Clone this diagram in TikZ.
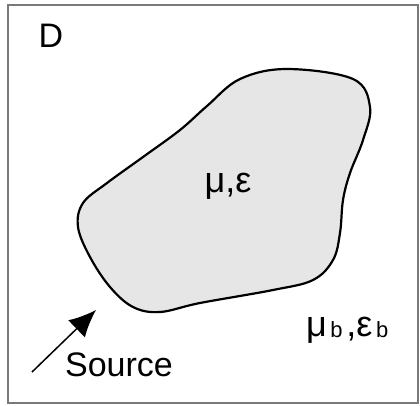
\documentclass[tikz,border=0pt]{standalone}
\usepackage{fontspec}
\setmainfont{Liberation Sans}
\usetikzlibrary{arrows.meta}
\definecolor{FrameGray}{HTML}{7A7A7A}
\definecolor{BodyGray}{HTML}{E6E6E6}
\tikzset{
  regionframe/.style={draw=FrameGray, line width=1.5pt},
  scatterer/.style={draw=black, line width=2.2pt, fill=BodyGray},
  txt/.style={inner sep=0pt, font=\fontsize{34}{38}\selectfont},
  greek/.style={inner sep=0pt, font=\fontsize{36}{40}\selectfont},
  excite/.style={-{Latex[length=27pt, width=24pt]}, line width=1.5pt}
}
\newcommand{\sbsc}[1]{\raisebox{-1pt}{\fontsize{22}{24}\selectfont\,#1\,}}

\begin{document}
\begin{tikzpicture}[x=1pt, y=-1pt]
  \useasboundingbox (0,0) rectangle (420,405);
  \draw[regionframe] (8,5) rectangle (418,403);

  % scatterer
  \draw[scatterer] plot[smooth cycle, tension=0.6] coordinates {
    (240,79) (287,69) (353,79) (370,107) (363,140) (350,173)
    (343,200) (340,233) (333,260) (313,280) (273,290) (200,303)
    (160,312) (133,307) (110,287) (90,257) (78,227) (83,203)
    (107,183) (143,157) (180,130) (207,106)};

  \node[txt] (dom) at (51,36) {D};
  \node[greek] (inside) at (228,186) {μ,ε};
  \node[greek] (outside) at (349,330) {μ\sbsc{b},ε\sbsc{b}};
  \node[txt] (src) at (119,365) {Source};

  \coordinate (tail) at (32,372);
  \coordinate (tip) at (96,310);
  \draw[excite] (tail) -- (tip);
\end{tikzpicture}
\end{document}
